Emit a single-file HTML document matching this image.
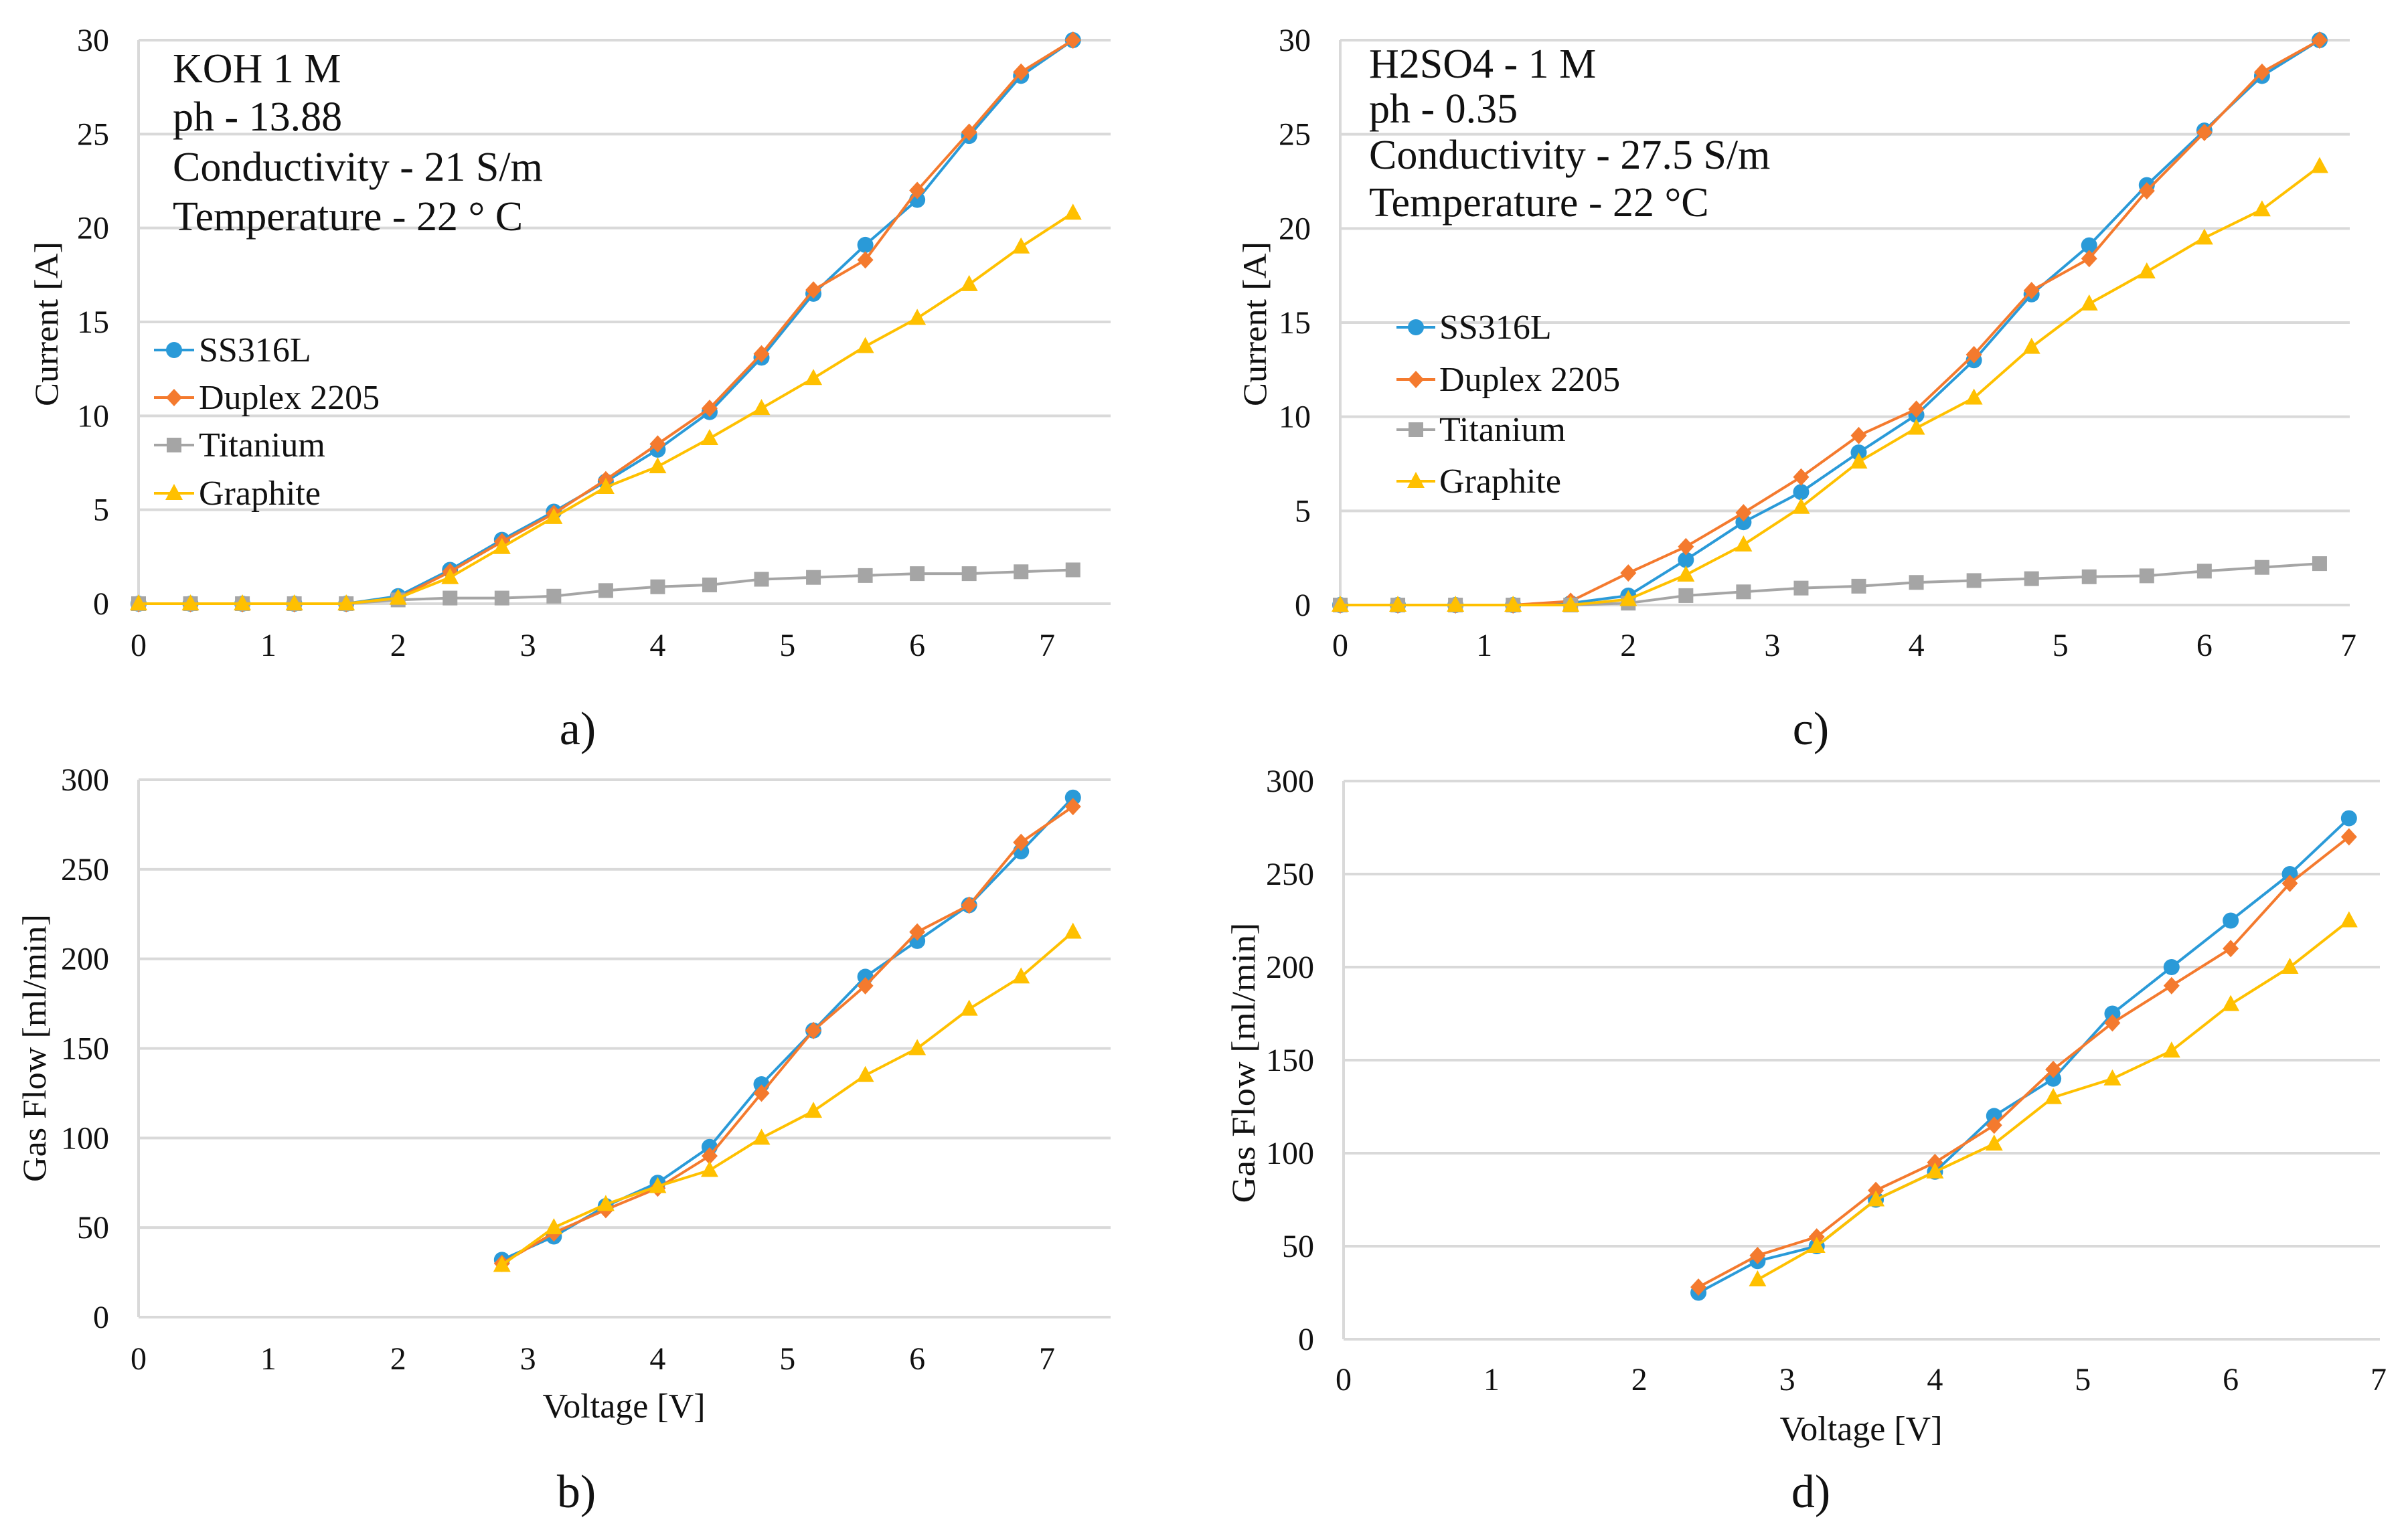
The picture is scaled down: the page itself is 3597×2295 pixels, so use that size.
<!DOCTYPE html>
<html><head><meta charset="utf-8"><style>
html,body{margin:0;padding:0;background:#fff}
svg{display:block}
svg text{font-family:"Liberation Serif","Times New Roman","DejaVu Serif",serif !important;fill:#111}
</style></head><body>
<svg id="fig" width="3597" height="2295" viewBox="0 0 3597 2295" xmlns="http://www.w3.org/2000/svg" font-family="Liberation Serif, Times New Roman, DejaVu Serif, serif">
<rect width="3597" height="2295" fill="#fff"/>
</svg>
<script>
// ---- data ----
const xA = [0,0.4,0.8,1.2,1.6,2,2.4,2.8,3.2,3.6,4,4.4,4.8,5.2,5.6,6,6.4,6.8,7.2];
const aSS = [0,0,0,0,0,0.4,1.8,3.4,4.9,6.5,8.2,10.2,13.1,16.5,19.1,21.5,24.9,28.1,30];
const aDup = [0,0,0,0,0,0.3,1.7,3.3,4.8,6.6,8.5,10.4,13.3,16.7,18.3,22,25.1,28.3,30];
const aTi = [0,0,0,0,0,0.2,0.3,0.3,0.4,0.7,0.9,1.0,1.3,1.4,1.5,1.6,1.6,1.7,1.8];
const aGr = [0,0,0,0,0,0.3,1.4,3.0,4.6,6.2,7.3,8.8,10.4,12.0,13.7,15.2,17.0,19.0,20.8];

const xC = [0,0.4,0.8,1.2,1.6,2,2.4,2.8,3.2,3.6,4,4.4,4.8,5.2,5.6,6,6.4,6.8];
const cSS = [0,0,0,0,0.1,0.5,2.4,4.4,6.0,8.1,10.1,13.0,16.5,19.1,22.3,25.2,28.1,30];
const cDup = [0,0,0,0,0.2,1.7,3.1,4.9,6.8,9.0,10.4,13.3,16.7,18.4,22.0,25.1,28.3,30];
const cTi = [0,0,0,0,0,0.1,0.5,0.7,0.9,1.0,1.2,1.3,1.4,1.5,1.55,1.8,2.0,2.2];
const cGr = [0,0,0,0,0,0.3,1.6,3.2,5.2,7.6,9.4,11.0,13.7,16.0,17.7,19.5,21.0,23.3];

const xB = [2.8,3.2,3.6,4,4.4,4.8,5.2,5.6,6,6.4,6.8,7.2];
const bSS = [32,45,62,75,95,130,160,190,210,230,260,290];
const bDup = [30,47,60,72,90,125,160,185,215,230,265,285];
const bGr = [29,50,63,73,82,100,115,135,150,172,190,215];

const xD = [2.4,2.8,3.2,3.6,4,4.4,4.8,5.2,5.6,6,6.4,6.8];
const dSS = [25,42,50,75,90,120,140,175,200,225,250,280];
const dDup = [28,45,55,80,95,115,145,170,190,210,245,270];
const dGr = [null,32,50,75,90,105,130,140,155,180,200,225];

const xTicks = [0,1,2,3,4,5,6,7];
const currentTicks = [0,5,10,15,20,25,30];
const flowTicks = [0,50,100,150,200,250,300];

const COL = {ss:'#2a9ad8', dup:'#f47a2e', ti:'#a5a5a5', gr:'#ffc000'};
const NS = 'http://www.w3.org/2000/svg';
const SERIF = '"Liberation Serif", "Times New Roman", "DejaVu Serif", serif';
const svg = document.getElementById('fig');

function mk(tag, attrs, parent, txt){
  const e = document.createElementNS(NS, tag);
  for (const k in attrs) e.setAttribute(k, attrs[k]);
  if (tag === 'text') { e.setAttribute('font-family', SERIF); e.style.fontFamily = SERIF; }
  if (txt !== undefined) e.textContent = txt;
  (parent||svg).appendChild(e);
  return e;
}

function marker(g, kind, x, y, color){
  let m;
  if (kind==='circle') m = mk('circle',{cx:x,cy:y,r:12,fill:color},g);
  else if (kind==='diamond') m = mk('polygon',{points:`${x},${y-13} ${x+12},${y} ${x},${y+13} ${x-12},${y}`,fill:color},g);
  else if (kind==='square') m = mk('rect',{x:x-11,y:y-11,width:22,height:22,fill:color},g);
  else m = mk('polygon',{points:`${x},${y-14} ${x+13},${y+10} ${x-13},${y+10}`,fill:color},g);
  
  
  return m;
}

function chart(cfg){
  const g = mk('g',{});
  
  
  const sx = v => cfg.x0 + (cfg.x7 - cfg.x0) * v / 7;
  const sy = v => cfg.y0 - (cfg.y0 - cfg.yTop) * v / cfg.yMax;
  cfg.yTicks.forEach(t=>{
    const l = mk('line',{x1:cfg.x0,x2:cfg.right,y1:sy(t),y2:sy(t),stroke:'#d9d9d9','stroke-width':4},g);
    
    
    const tl = mk('text',{x:cfg.x0-44,y:sy(t)+16,'text-anchor':'end','font-size':48},g,String(t));
    
    
  });
  const ax = mk('line',{x1:cfg.x0,x2:cfg.x0,y1:cfg.yTop,y2:cfg.y0,stroke:'#d9d9d9','stroke-width':4},g);
  
  
  xTicks.forEach(t=>{
    const tl = mk('text',{x:sx(t),y:cfg.xTickY,'text-anchor':'middle','font-size':48},g,String(t));
    
    
  });
  cfg.series.forEach(s=>{
    const sg = mk('g',{},g);
    
    
    const pts = [];
    s.y.forEach((v,i)=>{ if (v!==null) pts.push([sx(s.x[i]), sy(v)]); });
    const pl = mk('polyline',{points:pts.map(p=>p.join(',')).join(' '),fill:'none',stroke:s.color,'stroke-width':4,'stroke-linejoin':'round'},sg);
    
    
    pts.forEach(p=>marker(sg, s.kind, p[0], p[1], s.color));
  });
  const yt = mk('text',{x:0,y:0,'text-anchor':'middle','font-size':50,
    transform:`translate(${cfg.ytX},${cfg.ytY}) rotate(-90)`,textLength:cfg.ytLen,lengthAdjust:'spacingAndGlyphs'},g,cfg.yTitle);
  
  
  if (cfg.xTitle){
    const xt = mk('text',{x:cfg.xtX,y:cfg.xtY,'text-anchor':'middle','font-size':52},g,'Voltage [V]');
    
    
  }
  const pl = mk('text',{x:cfg.lblX,y:cfg.lblY,'text-anchor':'middle','font-size':70},g,cfg.label);
  
  
  if (cfg.note){
    cfg.note.lines.forEach((t,i)=>{
      const n = mk('text',{x:cfg.note.x,y:cfg.note.ys[i],'font-size':62},g,t);
      
      
    });
  }
  if (cfg.legend){
    const L = cfg.legend;
    cfg.series.forEach((s,i)=>{
      const lg = mk('g',{},g);
      
      
      const y = L.ys[i];
      mk('line',{x1:L.x1,x2:L.x2,y1:y,y2:y,stroke:s.color,'stroke-width':4},lg);
      marker(lg, s.kind, (L.x1+L.x2)/2, y, s.color);
      mk('text',{x:L.tx,y:y+17,'font-size':52},lg,s.label);
    });
  }
}

chart({name:'chart-a-current-koh',x0:207,x7:1564,right:1659,y0:902,yTop:60,yMax:30,yTicks:currentTicks,xTickY:980,
  series:[
    {name:'series-ss316l',label:'SS316L',x:xA,y:aSS,color:COL.ss,kind:'circle'},
    {name:'series-duplex-2205',label:'Duplex 2205',x:xA,y:aDup,color:COL.dup,kind:'diamond'},
    {name:'series-titanium',label:'Titanium',x:xA,y:aTi,color:COL.ti,kind:'square'},
    {name:'series-graphite',label:'Graphite',x:xA,y:aGr,color:COL.gr,kind:'triangle'}],
  yTitle:'Current [A]',ytX:86,ytY:484,ytLen:246,label:'a)',lblX:863,lblY:1112,
  note:{x:258,ys:[123,195,270,344],lines:['KOH 1 M','ph - 13.88','Conductivity - 21 S/m','Temperature - 22 ° C']},
  legend:{x1:230,x2:290,tx:297,ys:[523,594,665,737]}});

chart({name:'chart-b-gasflow-koh',x0:207,x7:1564,right:1659,y0:1968,yTop:1165,yMax:300,yTicks:flowTicks,xTickY:2046,
  series:[
    {name:'series-ss316l',label:'SS316L',x:xB,y:bSS,color:COL.ss,kind:'circle'},
    {name:'series-duplex-2205',label:'Duplex 2205',x:xB,y:bDup,color:COL.dup,kind:'diamond'},
    {name:'series-graphite',label:'Graphite',x:xB,y:bGr,color:COL.gr,kind:'triangle'}],
  yTitle:'Gas Flow [ml/min]',ytX:68,ytY:1566,ytLen:400,xTitle:true,xtX:932,xtY:2118,label:'b)',lblX:861,lblY:2252});

chart({name:'chart-c-current-h2so4',x0:2002,x7:3508,right:3510,y0:904,yTop:60,yMax:30,yTicks:currentTicks,xTickY:980,
  series:[
    {name:'series-ss316l',label:'SS316L',x:xC,y:cSS,color:COL.ss,kind:'circle'},
    {name:'series-duplex-2205',label:'Duplex 2205',x:xC,y:cDup,color:COL.dup,kind:'diamond'},
    {name:'series-titanium',label:'Titanium',x:xC,y:cTi,color:COL.ti,kind:'square'},
    {name:'series-graphite',label:'Graphite',x:xC,y:cGr,color:COL.gr,kind:'triangle'}],
  yTitle:'Current [A]',ytX:1891,ytY:484,ytLen:246,label:'c)',lblX:2705,lblY:1112,
  note:{x:2045,ys:[116,183,252,323],lines:['H2SO4 - 1 M','ph - 0.35','Conductivity - 27.5 S/m','Temperature - 22 °C']},
  legend:{x1:2086,x2:2144,tx:2150,ys:[489,567,642,719]}});

chart({name:'chart-d-gasflow-h2so4',x0:2007,x7:3553,right:3555,y0:2001,yTop:1167,yMax:300,yTicks:flowTicks,xTickY:2077,
  series:[
    {name:'series-ss316l',label:'SS316L',x:xD,y:dSS,color:COL.ss,kind:'circle'},
    {name:'series-duplex-2205',label:'Duplex 2205',x:xD,y:dDup,color:COL.dup,kind:'diamond'},
    {name:'series-graphite',label:'Graphite',x:xD,y:dGr,color:COL.gr,kind:'triangle'}],
  yTitle:'Gas Flow [ml/min]',ytX:1874,ytY:1588,ytLen:419,xTitle:true,xtX:2780,xtY:2152,label:'d)',lblX:2705,lblY:2252});
</script>
</body></html>
